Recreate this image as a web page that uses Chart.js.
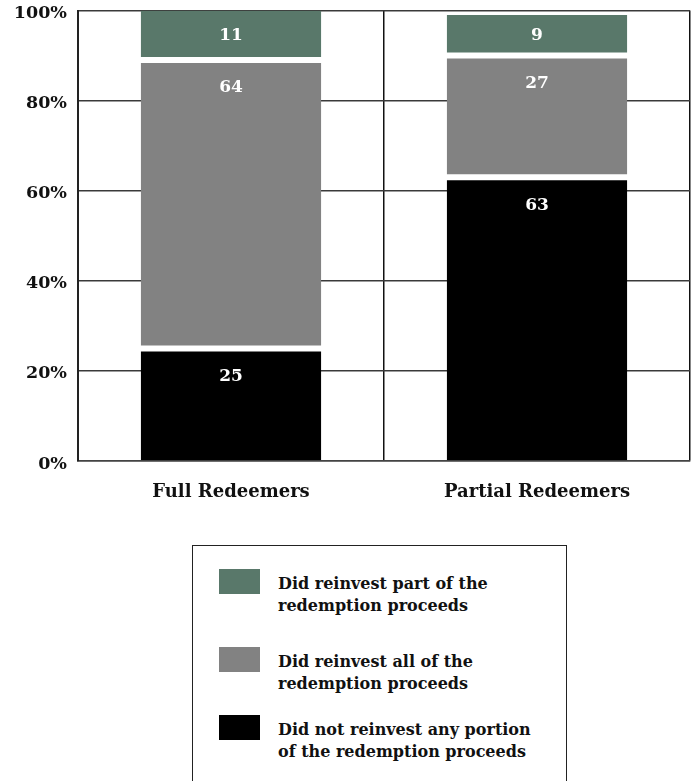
<!DOCTYPE html>
<html>
<head>
<meta charset="utf-8">
<script src="https://cdn.jsdelivr.net/npm/chart.js@4.4.0/dist/chart.umd.min.js"></script>
<style>
  body { margin: 0; background: #fff; font-family: "DejaVu Serif", serif; }
  #wrap { position: relative; width: 692px; height: 781px; overflow: hidden; }
  /* canvas starts a little above the page so the plot top sits at y=10 */
  #redeemers-chart { position: absolute; left: 0; top: -11px; }
  .legend {
    position: absolute; left: 192px; top: 545px; width: 375px; height: 260px;
    border: 1.5px solid #222; box-sizing: border-box;
  }
  .legend .swatch { position: absolute; left: 26px; width: 41px; height: 25px; }
  .legend .label {
    position: absolute; left: 85px; font-weight: bold; font-size: 16px;
    line-height: 22px; color: #111; white-space: nowrap;
  }
</style>
</head>
<body>
<div id="wrap">
  <canvas id="redeemers-chart" width="692" height="531"></canvas>
  <div class="legend" id="legend"></div>
</div>
<script>
const categories = ["Full Redeemers", "Partial Redeemers"];
const notReinvested = [25, 63];
const reinvestedAll = [64, 27];
const reinvestedPart = [11, 9];
const seriesNames = [
  ["Did not reinvest any portion", "of the redemption proceeds"],
  ["Did reinvest all of the", "redemption proceeds"],
  ["Did reinvest part of the", "redemption proceeds"],
];
const seriesColors = ["#000000", "#828282", "#59786a"];

const FONT = "'DejaVu Serif', serif";

// white numbers near the top of each stacked segment
const segmentLabels = {
  id: "segmentLabels",
  afterDatasetsDraw(chart) {
    const ctx = chart.ctx;
    ctx.save();
    ctx.fillStyle = "#fff";
    ctx.font = "bold 17px " + FONT;
    ctx.textAlign = "center";
    ctx.textBaseline = "middle";
    chart.data.datasets.forEach((ds, i) => {
      chart.getDatasetMeta(i).data.forEach((bar, j) => {
        const y = Math.min(bar.y + 28, (bar.y + bar.base) / 2);
        ctx.fillText(ds.data[j], bar.x, y);
      });
    });
    ctx.restore();
  },
};

const values = [notReinvested, reinvestedAll, reinvestedPart];
// white gap between stacked segments
const gaps = [
  { top: 3, bottom: 0, left: 0, right: 0 },
  { top: 3, bottom: 3, left: 0, right: 0 },
  { top: 0, bottom: 3, left: 0, right: 0 },
];

const ctx = document.querySelector("#redeemers-chart").getContext("2d");
new Chart(ctx, {
  type: "bar",
  data: {
    labels: categories,
    datasets: values.map((data, i) => ({
      label: seriesNames[i].join(" "),
      data: data,
      backgroundColor: seriesColors[i],
      borderColor: "#ffffff",
      borderWidth: gaps[i],
      borderSkipped: false,
      barPercentage: 0.59,
      categoryPercentage: 1.0,
    })),
  },
  options: {
    responsive: false,
    animation: false,
    layout: { padding: { top: 0, right: 2, left: 0, bottom: 0 } },
    plugins: { legend: { display: false }, tooltip: { enabled: false } },
    scales: {
      x: {
        stacked: true,
        afterFit: (scale) => { scale.height = 59; },
        grid: { offset: true, color: "#111", lineWidth: 1.5, drawTicks: false },
        border: { color: "#444", width: 1.5 },
        ticks: { color: "#111", padding: 21, font: { family: FONT, size: 18, weight: "bold" } },
      },
      y: {
        stacked: true,
        min: 0,
        max: 100,
        afterFit: (scale) => { scale.width = 78; },
        grid: { color: "#3a3a3a", lineWidth: 1.5, drawTicks: false },
        border: { color: "#222", width: 2 },
        ticks: {
          stepSize: 20,
          padding: 11,
          labelOffset: 3,
          color: "#111",
          font: { family: FONT, size: 17.5, weight: "bold" },
          callback: (v) => v + "%",
        },
      },
    },
  },
  plugins: [segmentLabels],
});

// legend box, top entry first
const legend = document.querySelector("#legend");
const swatchTops = [169, 101, 23];
[2, 1, 0].forEach((i) => {
  const sw = document.createElement("div");
  sw.className = "swatch";
  sw.style.top = swatchTops[i] + "px";
  sw.style.background = seriesColors[i];
  legend.appendChild(sw);
  const lab = document.createElement("div");
  lab.className = "label";
  lab.style.top = swatchTops[i] + 3.5 + "px";
  lab.innerHTML = seriesNames[i].join("<br>");
  legend.appendChild(lab);
});
</script>
</body>
</html>
